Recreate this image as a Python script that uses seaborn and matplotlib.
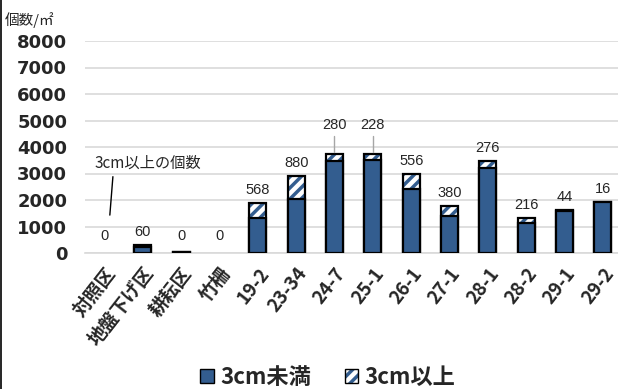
import matplotlib
matplotlib.use("Agg")
import matplotlib.pyplot as plt
from matplotlib.patches import Patch
from matplotlib.lines import Line2D
import seaborn as sns
import pandas as pd

# Density of clams per square metre by survey site
sites = ["対照区", "地盤下げ区", "耕耘区", "竹柵", "19-2", "23-34", "24-7",
         "25-1", "26-1", "27-1", "28-1", "28-2", "29-1", "29-2"]
under_3cm = [0, 240, 40, 0, 1320, 2030, 3470, 3520, 2420, 1390, 3200, 1120, 1570, 1910]
over_3cm = [0, 60, 0, 0, 568, 880, 280, 228, 556, 380, 276, 216, 44, 16]
y_ticks = [0, 1000, 2000, 3000, 4000, 5000, 6000, 7000, 8000]

BLUE = "#335d8f"
CJK = ["Noto Sans CJK JP", "DejaVu Sans"]

sns.set_theme(style="white")
plt.rcParams["font.family"] = CJK
plt.rcParams["hatch.linewidth"] = 2.5

df = pd.DataFrame({
    "site": sites,
    "small": under_3cm,
    "large": over_3cm,
})
df["total"] = df["small"] + df["large"]

fig = plt.figure(figsize=(6.18, 3.89), dpi=100)
ax = fig.add_axes([85.3 / 618, 136 / 389, 536.7 / 618, 212 / 389])

# total height, hatched part (3cm and over)
sns.barplot(data=df, x="site", y="total", ax=ax, color="white", width=0.45,
            saturation=1, edgecolor=BLUE, linewidth=0, hatch="///", zorder=2)
# outline of the full stack
sns.barplot(data=df, x="site", y="total", ax=ax, fill=False, width=0.45,
            edgecolor="black", linewidth=1.6, zorder=3)
# solid part (under 3cm)
sns.barplot(data=df, x="site", y="small", ax=ax, color=BLUE, width=0.45,
            saturation=1, edgecolor="black", linewidth=1.6, zorder=4)

# empty sites get no outline
for p in ax.patches:
    if p.get_height() == 0:
        p.set_visible(False)

ax.set_ylim(0, 8000)
ax.set_xlim(-0.5, len(sites) - 0.5)
ax.set_yticks(y_ticks)
ax.set_yticklabels([str(v) for v in y_ticks], fontsize=13, fontweight="bold",
                   family=["DejaVu Sans"])
ax.tick_params(axis="y", length=0, pad=13)
ax.tick_params(axis="x", length=0, pad=8)
ax.set_xticks(range(len(sites)))
ax.set_xticklabels(sites, rotation=52, ha="right", rotation_mode="anchor",
                   fontsize=13.5, fontweight="bold")
ax.yaxis.grid(True, color="#d9d9d9", linewidth=1.2, zorder=0)
ax.set_axisbelow(True)
for s in ["top", "right", "left"]:
    ax.spines[s].set_visible(False)
ax.spines["bottom"].set_color("#d9d9d9")
ax.spines["bottom"].set_linewidth(1.2)
ax.set_xlabel("")
ax.set_ylabel("")

# value labels for the 3cm-and-over count
raised = {"24-7", "25-1"}
for i, (site, tot, big) in enumerate(zip(sites, df["total"], over_3cm)):
    if site in raised:
        ly = tot + 800
        ax.plot([i, i], [tot + 50, ly - 120], color="#a6a6a6", lw=1, zorder=5)
    else:
        ly = max(tot, 150) + 230
    ax.text(i, ly, str(big), ha="center", va="bottom", fontsize=10.5,
            family=["Liberation Sans"], zorder=6)

# callout explaining the numbers
ax.text(1.13, 3380, "3cm以上の個数", ha="center", va="center", fontsize=11)
ax.plot([0.22, 0.14], [2880, 1430], color="black", lw=1, zorder=5)

fig.text(5 / 618, 1 - 20 / 389, "個数/㎡", fontsize=10.5, ha="left", va="center")

solid = Patch(facecolor=BLUE, edgecolor="black", linewidth=1)
hatched = (Patch(facecolor="white", edgecolor=BLUE, hatch="///", linewidth=0),
           Patch(fill=False, edgecolor="black", linewidth=1))
fig.legend([solid, hatched], ["3cm未満", "3cm以上"], loc="center",
           bbox_to_anchor=(328 / 618, 1 - 377 / 389), ncol=2, frameon=False,
           prop={"family": CJK, "weight": "bold", "size": 16},
           handlelength=0.6, handleheight=0.6, handletextpad=0.3,
           columnspacing=1.5)

fig.add_artist(Line2D([1.5 / 618, 1.5 / 618], [0, 1], color="black", lw=1.2,
                      transform=fig.transFigure))

fig.savefig("out.png", dpi=100)
